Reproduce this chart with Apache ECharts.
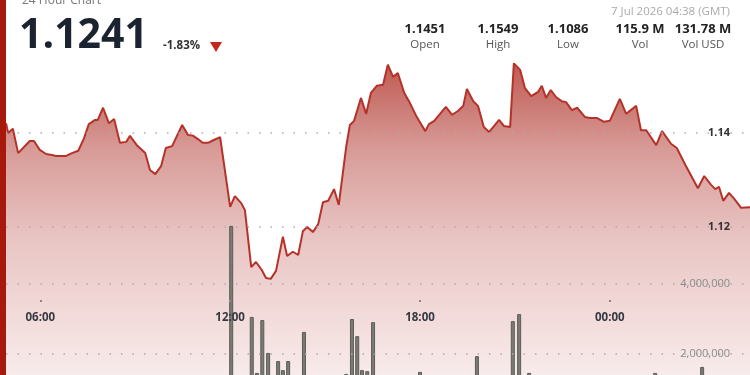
<!DOCTYPE html>
<html><head><meta charset="utf-8">
<script src="https://cdn.jsdelivr.net/npm/echarts@6/dist/echarts.min.js"></script>
<style>html,body{margin:0;padding:0;background:#fff;}#c{width:750px;height:375px;}</style>
</head><body><div id="c"></div>
<script>
// ---- data ----
const priceTimes = ["04:55","04:59","05:08","05:18","05:40","05:48","05:59","06:11","06:22","06:30",
"06:49","07:00","07:12","07:23","07:32","07:44","07:49","07:59","08:10","08:20",
"08:31","08:43","08:50","09:03","09:19","09:28","09:38","09:49","09:58","10:10",
"10:29","10:40","10:50","10:59","11:08","11:18","11:29","11:41","12:00","12:09",
"12:21","12:28","12:40","12:49","13:00","13:08","13:17","13:27","13:40","13:48",
"13:59","14:09","14:18","14:26","14:37","14:47","14:56","15:06","15:17","15:26",
"15:40","15:47","15:55","16:08","16:18","16:27","16:38","16:50","16:59","17:09",
"17:18","17:30","17:41","17:54","18:10","18:17","18:27","18:49","19:01","19:12",
"19:22","19:29","19:41","19:50","20:01","20:11","20:30","20:39","20:51","20:58",
"21:10","21:19","21:31","21:44","21:51","21:59","22:08","22:18","22:29","22:37",
"22:48","22:58","23:13","23:22","23:36","23:49","00:00","00:19","00:31","00:50",
"00:59","01:09","01:28","01:39","01:56","02:07","02:23","02:47","02:59","03:12",
"03:20","03:27","03:35","03:46","03:56","04:09","04:26"];
const priceValues = [1.1421,1.1400,1.1409,1.1357,1.1383,1.1383,1.1364,1.1355,1.1353,1.1351,
1.1351,1.1357,1.1362,1.1389,1.1419,1.1428,1.1428,1.1454,1.1421,1.1430,
1.1379,1.1381,1.1394,1.1374,1.1357,1.1321,1.1312,1.1329,1.1368,1.1372,
1.1417,1.1396,1.1394,1.1387,1.1379,1.1379,1.1385,1.1391,1.1242,1.1265,
1.1250,1.1235,1.1113,1.1124,1.1107,1.1090,1.1088,1.1105,1.1178,1.1137,
1.1146,1.1139,1.1190,1.1199,1.1188,1.1205,1.1252,1.1255,1.1280,1.1246,
1.1370,1.1417,1.1426,1.1475,1.1441,1.1486,1.1501,1.1503,1.1546,1.1520,
1.1528,1.1486,1.1464,1.1434,1.1404,1.1419,1.1426,1.1456,1.1439,1.1447,
1.1458,1.1494,1.1468,1.1458,1.1413,1.1402,1.1428,1.1415,1.1413,1.1549,
1.1535,1.1496,1.1479,1.1488,1.1501,1.1475,1.1492,1.1477,1.1468,1.1466,
1.1449,1.1454,1.1434,1.1432,1.1432,1.1424,1.1426,1.1473,1.1441,1.1458,
1.1406,1.1406,1.1374,1.1404,1.1377,1.1368,1.1332,1.1282,1.1308,1.1289,
1.1280,1.1285,1.1255,1.1272,1.1259,1.1240,1.1241];
const volTimes = ["12:02","12:41","12:51","13:01","13:12","13:31","13:40","13:50","14:20","15:40",
"15:51","16:01","16:10","16:20","16:31","18:00","19:48","20:56","21:08","21:27","01:26","02:55"];
const volValues = [5660000,3060000,1460000,2970000,2030000,1800000,1540000,1800000,2630000,1430000,
3000000,2510000,1540000,1510000,2910000,1490000,1940000,2940000,3140000,1460000,1460000,1630000];
const xTickHours = [6, 12, 18, 24];
const priceTickLabels = [1.12, 1.14];
const volTickLabels = [2000000, 4000000];
const headerTitle = "24 Hour Chart";
const lastPrice = "1.1241";
const changePct = "-1.83%";
const dateText = "7 Jul 2026 04:38 (GMT)";
const statValues = ["1.1451", "1.1549", "1.1086", "115.9 M", "131.78 M"];
const statLabels = ["Open", "High", "Low", "Vol", "Vol USD"];

// ---- helpers ----
function toHours(list) {
  let prev = -1, add = 0;
  return list.map(s => {
    const [hh, mm] = s.split(':').map(Number);
    let h = hh + mm / 60;
    if (h + add < prev) add += 24;
    h += add; prev = h; return h;
  });
}
const pH = toHours(priceTimes);
const vH = toHours(volTimes);
const priceData = pH.map((h, i) => [h, priceValues[i]]);
const volData = vH.map((h, i) => [h, volValues[i]]);
const X_MIN = 4.916, X_MAX = 28.43;
const pad = n => (n < 10 ? '0' : '') + n;
const near = (v, arr, eps) => arr.some(a => Math.abs(a - v) < eps);

const statX = [425, 498, 568, 640, 703];
const graphics = [
  {type:'rect', shape:{x:0,y:0,width:6,height:375}, style:{fill:'#a8190d'}, z:100},
  {type:'text', x:22, y:1, style:{text:headerTitle, font:'12px "Open Sans"', fill:'#777', verticalAlign:'middle'}, z:100},
  {type:'text', x:19, y:36, style:{text:lastPrice, font:'bold 41px "Open Sans"', fill:'#1b2331', verticalAlign:'middle'}, z:100},
  {type:'text', x:163, y:46, style:{text:changePct, font:'bold 11.5px "Open Sans"', fill:'#333', verticalAlign:'middle'}, z:100},
  {type:'polygon', shape:{points:[[210,42],[222,42],[216,52]]}, style:{fill:'#c4281c'}, z:100},
  {type:'text', x:730, y:12, style:{text:dateText, font:'11.5px "Open Sans"', fill:'#aaa', align:'right', verticalAlign:'middle'}, z:100}
];
statValues.forEach((v, i) => {
  graphics.push({type:'text', x:statX[i], y:29, style:{text:v, font:'bold 13px "Open Sans"', fill:'#222', align:'center', verticalAlign:'middle'}, z:100});
  graphics.push({type:'text', x:statX[i], y:45, style:{text:statLabels[i], font:'11.5px "Open Sans"', fill:'#555', align:'center', verticalAlign:'middle'}, z:100});
});

const dotColor = '#b3a9a9';
const chart = echarts.init(document.getElementById('c'), null, {renderer:'canvas'});
chart.setOption({
  animation: false,
  backgroundColor: '#fff',
  textStyle: {fontFamily: '"Open Sans"'},
  grid: [
    {left:6, right:0, top:-54, bottom:-38.5, containLabel:false, outerBoundsMode:'none'},
    {left:6, right:0, top:4, bottom:-49, containLabel:false, outerBoundsMode:'none'}
  ],
  xAxis: [
    {type:'value', gridIndex:0, min:X_MIN, max:X_MAX, position:'bottom', offset:-113.5, z:10,
     axisLine:{show:false},
     axisTick:{show:true, customValues:xTickHours, length:2, lineStyle:{color:'#888', width:2}},
     axisLabel:{customValues:xTickHours, margin:12, fontSize:11.5, fontWeight:'bold', color:'#353a42',
       formatter: v => pad(Math.round(v) % 24) + ':00'},
     splitLine:{show:false}},
    {type:'value', gridIndex:1, min:X_MIN, max:X_MAX, show:false, splitLine:{show:false}}
  ],
  yAxis: [
    {type:'value', gridIndex:0, position:'right', min:1.08, max:1.18, interval:0.02, z:10,
     axisLine:{show:false}, axisTick:{show:false},
     axisLabel:{inside:true, margin:20, fontSize:11, fontWeight:'bold', color:'#333',
       formatter: v => near(v, priceTickLabels, 1e-6) ? v.toFixed(2) : ''},
     splitLine:{show:true, lineStyle:{color:['transparent','transparent',dotColor,dotColor,'transparent','transparent'], type:[1.5,10], width:1.5}}},
    {type:'value', gridIndex:1, position:'right', min:0, max:12000000, interval:2000000, z:10,
     axisLine:{show:false}, axisTick:{show:false},
     axisLabel:{inside:true, margin:20, fontSize:11, color:'#8a8a8a',
       formatter: v => near(v, volTickLabels, 1) ? v.toLocaleString('en-US') : ''},
     splitLine:{show:true, lineStyle:{color:['transparent',dotColor,dotColor,'transparent','transparent','transparent','transparent'], type:[1.5,10], width:1.5}}}
  ],
  series: [
    {type:'line', xAxisIndex:0, yAxisIndex:0, data:priceData, symbol:'none', z:2,
     lineStyle:{color:'#b5322a', width:2},
     areaStyle:{opacity:1, color: new echarts.graphic.LinearGradient(0,0,0,1,[
       {offset:0, color:'#c05a53'},
       {offset:0.25, color:'#d89c98'},
       {offset:0.5, color:'#e8c5c3'},
       {offset:0.7, color:'#f1d9d8'},
       {offset:0.9, color:'#f8ecec'},
       {offset:1, color:'#fbf3f3'}])}},
    {type:'bar', xAxisIndex:1, yAxisIndex:1, data:volData, barWidth:4, z:3,
     itemStyle:{color:'#7b7a74', borderColor:'#5d5c57', borderWidth:1}}
  ],
  graphic: graphics
});
</script></body></html>
